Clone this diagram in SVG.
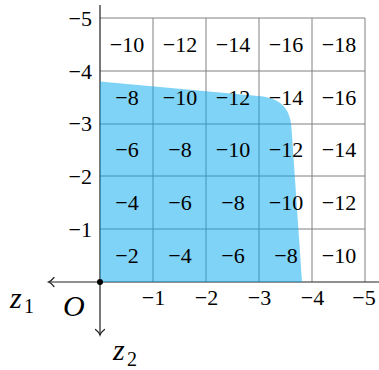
<svg xmlns="http://www.w3.org/2000/svg" width="379" height="370" viewBox="0 0 379 370">
<style>
.grid{stroke:#808080;stroke-width:1;fill:none}
.axis{stroke:#222;stroke-width:1.2;fill:none}
.arr{stroke:#222;stroke-width:1.2;fill:none;stroke-linecap:round}
.num{font-family:"Liberation Serif",serif;font-size:22px;fill:#000;text-anchor:middle}
.tick{font-family:"Liberation Serif",serif;font-size:22px;fill:#000}
.lab{font-family:"Liberation Serif",serif;font-style:italic;font-size:30px;fill:#000}
.sub{font-family:"Liberation Serif",serif;font-size:20px;fill:#000}
</style>
<rect width="379" height="370" fill="#fff"/>
<g id="grid" class="grid">
<path d="M153,18V282M206,18V282M259,18V282M312,18V282M365,18V282"/>
<path d="M100,18H365M100,71H365M100,124H365M100,176H365M100,229H365"/>
</g>
<g id="axes">
<path class="axis" d="M48.5,282H379M100,5V335"/>
<path class="arr" d="M54,277.5Q51,281.2 48.5,282Q51,282.8 54,286.5"/>
<path class="arr" d="M95.5,329.5Q99.2,332.5 100,335Q100.8,332.5 104.5,329.5"/>
</g>
<g id="region">
<path d="M100,81.5L258,96C276,97.5 290,104 291.5,128L302,282L100,282Z" fill="#00a8f0" fill-opacity="0.5"/>
</g>
<circle id="origin" cx="100" cy="282" r="3" fill="#000"/>
<g id="values" class="num">
<text x="127" y="52">−10</text><text x="180" y="52">−12</text><text x="233" y="52">−14</text><text x="286" y="52">−16</text><text x="339" y="52">−18</text>
<text x="127" y="105">−8</text><text x="180" y="105">−10</text><text x="233" y="105">−12</text><text x="286" y="105">−14</text><text x="339" y="105">−16</text>
<text x="127" y="157">−6</text><text x="180" y="157">−8</text><text x="233" y="157">−10</text><text x="286" y="157">−12</text><text x="339" y="157">−14</text>
<text x="127" y="210">−4</text><text x="180" y="210">−6</text><text x="233" y="210">−8</text><text x="286" y="210">−10</text><text x="339" y="210">−12</text>
<text x="127" y="263">−2</text><text x="180" y="263">−4</text><text x="233" y="263">−6</text><text x="286" y="263">−8</text><text x="339" y="263">−10</text>
</g>
<g id="yticks" class="tick" text-anchor="end">
<text x="92" y="25.5">−5</text><text x="92" y="78.5">−4</text><text x="92" y="131">−3</text><text x="92" y="183.5">−2</text><text x="92" y="236.5">−1</text>
</g>
<g id="xticks" class="tick" text-anchor="middle">
<text x="153.5" y="305">−1</text><text x="206.5" y="305">−2</text><text x="259.5" y="305">−3</text><text x="312.5" y="305">−4</text><text x="364" y="305">−5</text>
</g>
<g id="labels">
<text class="lab" x="10" y="308">z</text><text class="sub" x="24" y="313">1</text>
<text class="lab" x="63" y="316">O</text>
<text class="lab" x="113" y="360">z</text><text class="sub" x="127" y="366">2</text>
</g>
</svg>
